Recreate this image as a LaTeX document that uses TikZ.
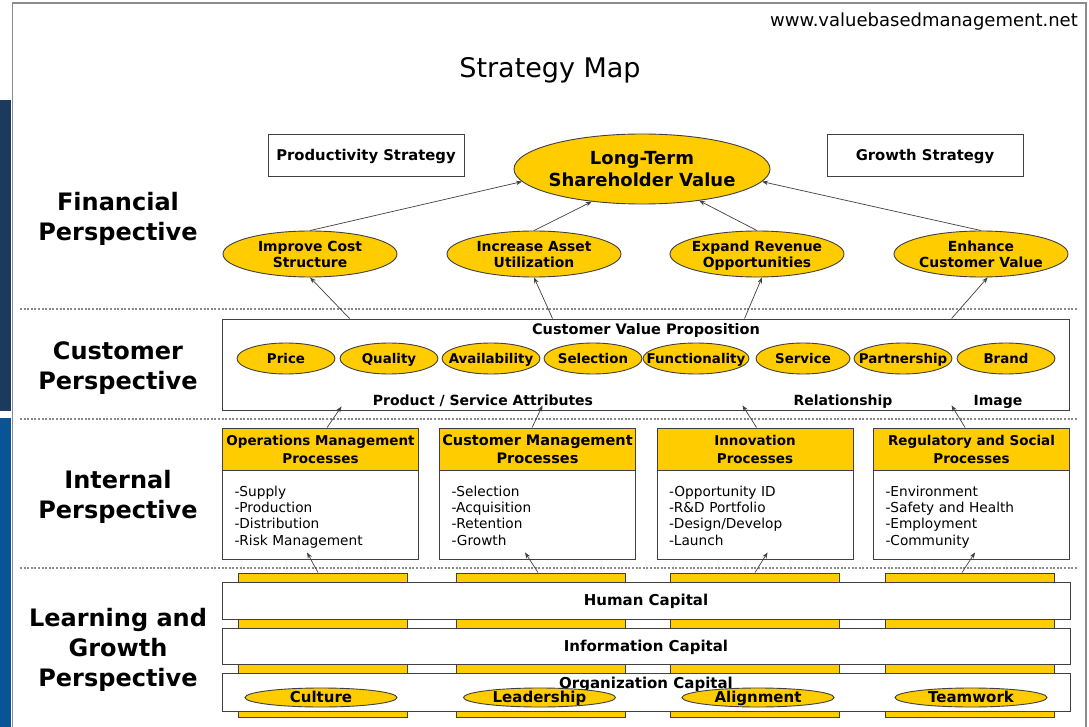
\documentclass[tikz,border=0pt]{standalone}
\usepackage{fontspec}
\setmainfont{DejaVu Sans}
\usetikzlibrary{shapes.geometric,arrows.meta,calc}
\definecolor{gold}{HTML}{FFCC00}
\definecolor{navy}{HTML}{1B3A5E}
\definecolor{midblue}{HTML}{0A5496}
\definecolor{edgegray}{HTML}{404040}
\definecolor{framegray}{HTML}{8C8C8C}
\definecolor{dotgray}{HTML}{8A8A8A}
\newcommand\ctext[1]{\makebox[0pt][c]{\raisebox{0pt}[0.73em][0pt]{#1}}}
\begin{document}
\begin{tikzpicture}[x=1pt,y=-1pt,
  oval/.style={ellipse, draw=edgegray, line width=0.9pt, fill=gold, inner sep=0pt, align=center},
  finoval/.style={oval, minimum width=174, minimum height=46, font=\bfseries\fontsize{13.9}{16}\selectfont},
  cvoval/.style={oval, minimum width=98, minimum height=31, font=\bfseries\fontsize{13.4}{16}\selectfont},
  lgoval/.style={oval, minimum width=152, minimum height=19, font=\bfseries\fontsize{15}{18}\selectfont},
  plainbox/.style={rectangle, draw=edgegray, line width=0.9pt, fill=white, inner sep=0pt},
  headbox/.style={rectangle, draw=edgegray, line width=0.9pt, fill=gold, inner sep=0pt, minimum width=196, minimum height=42, align=center, font=\bfseries\fontsize{13.5}{18}\selectfont},
  bodybox/.style={rectangle, draw=edgegray, line width=0.9pt, fill=white, inner xsep=12pt, inner ysep=0pt, text width=172pt, minimum height=89, align=left, font=\fontsize{13.7}{16.3}\selectfont, execute at begin node={\rule{0pt}{17.5pt}}, execute at end node={\strut}},
  tabbox/.style={rectangle, draw=edgegray, line width=0.9pt, fill=gold, minimum width=169, minimum height=144, inner sep=0pt},
  stratbox/.style={plainbox, minimum width=196, minimum height=42, text height=10.8pt, text depth=0pt, font=\bfseries\fontsize{14.8}{17}\selectfont},
  barbox/.style={plainbox, minimum width=848, text height=10.9pt, text depth=0pt, font=\bfseries\fontsize{15}{18}\selectfont},
  persp/.style={align=center, font=\bfseries\fontsize{24}{30}\selectfont},
  lbl/.style={inner sep=0pt, text height=10.2pt, text depth=0pt, font=\bfseries\fontsize{14}{17}\selectfont},
  arr/.style={draw=edgegray, line width=0.7pt, -{Stealth[length=6pt,width=4.5pt]}},
  sep/.style={draw=dotgray, line width=1.2pt, dash pattern=on 2pt off 1.6pt}
]
\useasboundingbox (0,0) rectangle (1089,727);
\fill[white] (0,0) rectangle (1089,727);
% left strip and frame
\fill[navy] (0,100) rectangle (11,411);
\fill[midblue] (0,418) rectangle (11,727);
\draw[framegray, line width=1.5pt] (12.5,727) -- (12.5,3) -- (1086,3) -- (1086,727);

% title and url
\node[inner sep=0pt, text height=19.7pt, text depth=0pt] (title) at (550,68) {\fontsize{27}{32}\selectfont Strategy Map};
\node[anchor=east, inner sep=0pt, text height=13.7pt, text depth=0pt] (url) at (1078,19.5) {\fontsize{18}{22}\selectfont www.valuebasedmanagement.net};

% separators
\draw[sep] (20,309) -- (1077,309);
\draw[sep] (20,419) -- (1077,419);
\draw[sep] (20,568) -- (1077,568);

% perspective labels
\node[persp] (pfin) at (118,219) {Financial\\Perspective};
\node[persp] (pcus) at (118,368) {Customer\\Perspective};
\node[persp] (pint) at (118,497) {Internal\\Perspective};
\node[persp] (plg) at (118,650) {Learning and\\Growth\\Perspective};

% financial
\node[stratbox] (prod) at (366,155) {Productivity Strategy};
\node[stratbox] (grow) at (925,155) {Growth Strategy};
\node[oval, minimum width=256, minimum height=70, font=\bfseries\fontsize{18}{22}\selectfont] (lt) at (642,169) {\ctext{Long-Term}\\\ctext{Shareholder Value}};
\node[finoval] (ics) at (310,254) {\ctext{Improve Cost}\\\ctext{Structure}};
\node[finoval] (ias) at (534,254) {\ctext{Increase Asset}\\\ctext{Utilization}};
\node[finoval] (ero) at (757,254) {\ctext{Expand Revenue}\\\ctext{Opportunities}};
\node[finoval] (ecv) at (981,254) {\ctext{Enhance}\\\ctext{Customer Value}};
\draw[arr] (ics.north) -- (lt.186);
\draw[arr] (ias.north) -- (lt.213);
\draw[arr] (ero.north) -- (lt.331);
\draw[arr] (ecv.north) -- (lt.354);

% customer
\node[plainbox, minimum width=847, minimum height=91] (cvp) at (645.5,364.5) {};
\node[lbl, text height=10.6pt, font=\bfseries\fontsize{14.5}{17}\selectfont] (cvpt) at (646,329) {Customer Value Proposition};
\node[cvoval] (price) at (286,358.5) {\ctext{Price}};
\node[cvoval] (quality) at (389,358.5) {\ctext{Quality}};
\node[cvoval] (avail) at (491,358.5) {\ctext{Availability}};
\node[cvoval] (select) at (593,358.5) {\ctext{Selection}};
\node[cvoval, minimum width=106] (func) at (696,358.5) {\ctext{Functionality}};
\node[cvoval, minimum width=94] (service) at (803,358.5) {\ctext{Service}};
\node[cvoval] (partner) at (903,358.5) {\ctext{Partnership}};
\node[cvoval] (brand) at (1006,358.5) {\ctext{Brand}};
\node[lbl] (psa) at (483,400) {Product / Service Attributes};
\node[lbl] (rel) at (843,400) {Relationship};
\node[lbl] (img) at (998,400) {Image};
\draw[arr] ($(cvp.north west)+(128,0)$) -- (ics.south);
\draw[arr] ($(cvp.north west)+(331,0)$) -- (ias.south);
\draw[arr] ($(cvp.north west)+(523,0)$) -- (ero.-78);
\draw[arr] ($(cvp.north west)+(730,0)$) -- (ecv.-74);

% internal
\node[headbox] (ops) at (320.5,449) {Operations Management\\Processes};
\node[bodybox] (opsb) at (320.5,514.5) {-Supply\\-Production\\-Distribution\\-Risk Management};
\node[headbox, font=\bfseries\fontsize{14.5}{18}\selectfont] (cmp) at (537.5,449) {Customer Management\\Processes};
\node[bodybox] (cmpb) at (537.5,514.5) {-Selection\\-Acquisition\\-Retention\\-Growth};
\node[headbox] (inn) at (755,449) {Innovation\\Processes};
\node[bodybox] (innb) at (755,514.5) {-Opportunity ID\\-R\&D Portfolio\\-Design/Develop\\-Launch};
\node[headbox] (reg) at (971.5,449) {Regulatory and Social\\Processes};
\node[bodybox] (regb) at (971.5,514.5) {-Environment\\-Safety and Health\\-Employment\\-Community};
\draw[arr] ($(ops.north west)+(105,0)$) -- ($(cvp.south west)+(120,-4)$);
\draw[arr] ($(cmp.north west)+(93,0)$) -- ($(cvp.south west)+(321,-5)$);
\draw[arr] ($(inn.north west)+(100,0)$) -- ($(cvp.south west)+(521,-5)$);
\draw[arr] ($(reg.north west)+(92,0)$) -- ($(cvp.south west)+(730,-5)$);

% learning and growth
\node[tabbox] (tab1) at (322.5,645) {};
\node[tabbox] (tab2) at (540.5,645) {};
\node[tabbox] (tab3) at (755,645) {};
\node[tabbox] (tab4) at (969.5,645) {};
\node[barbox, minimum height=37] (hc) at (646,600.5) {Human Capital};
\node[barbox, minimum height=36] (ic) at (646,646) {Information Capital};
\node[barbox, minimum height=38] (oc) at (646,692) {};
\node[lbl, text height=10.9pt, font=\bfseries\fontsize{15}{18}\selectfont] (oct) at (646,683) {Organization Capital};
\node[lgoval] (culture) at (321,697.5) {\ctext{Culture}};
\node[lgoval] (leader) at (539.5,697.5) {\ctext{Leadership}};
\node[lgoval] (align) at (758,697.5) {\ctext{Alignment}};
\node[lgoval] (team) at (971,697.5) {\ctext{Teamwork}};
\draw[arr] ($(tab1.north)+(-4.5,0)$) -- ($(opsb.south west)+(85,-7)$);
\draw[arr] ($(tab2.north)+(-2.5,0)$) -- ($(cmpb.south west)+(86,-7)$);
\draw[arr] (tab3.north) -- ($(innb.south west)+(111,-7)$);
\draw[arr] ($(tab4.north)+(-7.5,0)$) -- ($(regb.south west)+(102,-7)$);
\end{tikzpicture}
\end{document}
